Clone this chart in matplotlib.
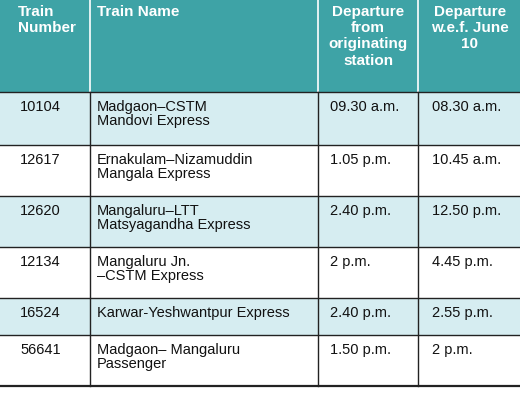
import matplotlib
matplotlib.use("Agg")
import matplotlib.pyplot as plt
from matplotlib.patches import Rectangle

headers = ["Train\nNumber", "Train Name", "Departure\nfrom\noriginating\nstation", "Departure\nw.e.f. June\n10"]
numbers = ["10104", "12617", "12620", "12134", "16524", "56641"]
names = ["Madgaon–CSTM\nMandovi Express", "Ernakulam–Nizamuddin\nMangala Express",
         "Mangaluru–LTT\nMatsyagandha Express", "Mangaluru Jn.\n–CSTM Express",
         "Karwar-Yeshwantpur Express", "Madgaon– Mangaluru\nPassenger"]
departure = ["09.30 a.m.", "1.05 p.m.", "2.40 p.m.", "2 p.m.", "2.40 p.m.", "1.50 p.m."]
new_departure = ["08.30 a.m.", "10.45 a.m.", "12.50 p.m.", "4.45 p.m.", "2.55 p.m.", "2 p.m."]

W, H = 520, 407
fig = plt.figure(figsize=(W/100, H/100), dpi=100)
ax = fig.add_axes([0, 0, 1, 1])
ax.set_xlim(0, W); ax.set_ylim(H, 0); ax.axis("off")

cols = [0, 90, 318, 418, 520]
rows = [0, 92, 145, 196, 247, 298, 335, 386]
teal = "#3ea3a6"; light = "#d6edf1"
fam = ["Liberation Sans", "DejaVu Sans"]

ax.add_patch(Rectangle((0, 0), W, rows[1], color=teal, lw=0))
for c in cols[1:-1]:
    ax.plot([c, c], [0, rows[1]], color="white", lw=1.2)
hx = [18, 97, 368, 470]
ha = ["left", "left", "center", "center"]
for i, h in enumerate(headers):
    ax.text(hx[i], 5, h, color="white", fontweight="bold", fontsize=11,
            ha=ha[i], va="top", family=fam, linespacing=1.2)

for r in range(len(numbers)):
    y0, y1 = rows[r+1], rows[r+2]
    if r % 2 == 0:
        ax.add_patch(Rectangle((0, y0), W, y1-y0, color=light, lw=0))
    ax.plot([0, W], [y1, y1], color="#222222", lw=1.0 if r < len(numbers)-1 else 1.6)
    ty = y0 + 8
    vals = [numbers[r], names[r], departure[r], new_departure[r]]
    xs = [20, 97, 330, 432]
    for i, v in enumerate(vals):
        ax.text(xs[i], ty, v, fontsize=10.5, ha="left", va="top", family=fam,
                color="#111111", linespacing=1.0)
ax.plot([0, W], [rows[1], rows[1]], color="#222222", lw=1.0)
for c in cols[1:-1]:
    ax.plot([c, c], [rows[1], rows[-1]], color="#222222", lw=1.0)

fig.savefig("out.png", dpi=100)
